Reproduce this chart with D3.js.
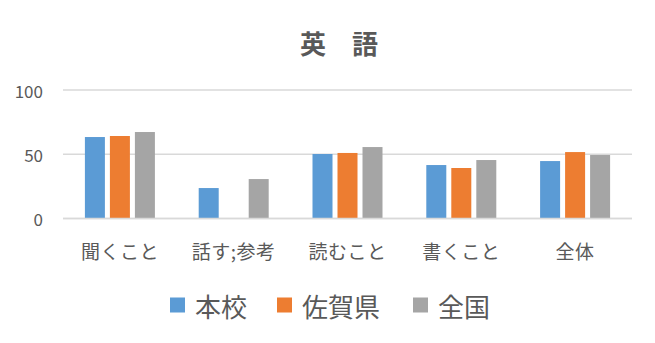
<!DOCTYPE html>
<html>
<head>
<meta charset="utf-8">
<script src="https://cdn.jsdelivr.net/npm/d3@7"></script>
<style>
  body { margin: 0; background: #fff; }
  text { font-family: "Noto Sans CJK JP", sans-serif; fill: #595959; }
</style>
</head>
<body>
<script>
// DATA
const categories = ['聞くこと', '話す;参考', '読むこと', '書くこと', '全体'];
const seriesNames = ['本校', '佐賀県', '全国'];
const honkou = [63.4, 23.7, 50.2, 41.6, 44.7];
const sagaken = [64.2, null, 51.0, 39.3, 51.7];
const zenkoku = [67.3, 30.7, 55.6, 45.5, 49.4];
const yTicks = [0, 50, 100];

// DEFS
const width = 655;
const height = 343;
const colors = ['#5B9BD5', '#ED7D31', '#A5A5A5'];
const gridColor = '#D9D9D9';
const plot = {left: 63, right: 632, top: 90, bottom: 218.5};
const groupWidth = 70;

const seriesValues = [honkou, sagaken, zenkoku];
const rows = categories.map((c, i) => ({
    category: c,
    values: seriesNames.map((s, j) => ({series: s, index: j, value: seriesValues[j][i]}))
}));

const svg = d3.select('body').append('svg').attr('width', width).attr('height', height);

// SCALES
const x0 = d3.scaleBand().domain(categories).range([plot.left, plot.right]).padding(0);
const x1 = d3.scaleBand().domain(seriesNames).range([-groupWidth / 2, groupWidth / 2]).paddingInner(0.2).paddingOuter(0);
const y = d3.scaleLinear().domain([0, 100]).range([plot.bottom, plot.top]);

// TITLE
svg.append('text')
    .attr('x', 339)
    .attr('y', 42)
    .attr('text-anchor', 'middle')
    .attr('dominant-baseline', 'central')
    .style('font-size', '26px')
    .style('font-weight', 'bold')
    .text('英　語');

// GRID
svg.append('g').selectAll('line')
  .data(yTicks)
  .enter().append('line')
    .attr('x1', plot.left)
    .attr('x2', plot.right)
    .attr('y1', d => y(d))
    .attr('y2', d => y(d))
    .attr('stroke', gridColor)
    .attr('stroke-width', 1.5);

svg.append('g').selectAll('text')
  .data(yTicks)
  .enter().append('text')
    .attr('x', 43)
    .attr('y', d => y(d))
    .attr('text-anchor', 'end')
    .attr('dominant-baseline', 'central')
    .style('font-size', '17px')
    .text(d => d);

// BARS
const groups = svg.append('g').selectAll('.cat')
  .data(rows)
  .enter().append('g')
    .attr('class', 'cat')
    .attr('transform', d => `translate(${x0(d.category) + x0.bandwidth() / 2}, 0)`);

groups.selectAll('rect')
  .data(d => d.values.filter(v => v.value !== null))
  .enter().append('rect')
    .attr('x', d => x1(d.series))
    .attr('width', x1.bandwidth())
    .attr('y', d => y(d.value))
    .attr('height', d => y(0) - y(d.value))
    .attr('fill', d => colors[d.index]);

// redraw baseline over bars
svg.append('line')
    .attr('x1', plot.left).attr('x2', plot.right)
    .attr('y1', y(0)).attr('y2', y(0))
    .attr('stroke', gridColor).attr('stroke-width', 1.5);

// CATEGORY LABELS
svg.append('g').selectAll('text')
  .data(categories)
  .enter().append('text')
    .attr('x', d => x0(d) + x0.bandwidth() / 2)
    .attr('y', 250)
    .attr('text-anchor', 'middle')
    .attr('dominant-baseline', 'central')
    .style('font-size', '19px')
    .style('letter-spacing', '0.5px')
    .text(d => d);

// LEGEND
const legendX = [170, 277, 413];
const legend = svg.append('g').selectAll('g')
  .data(seriesNames)
  .enter().append('g')
    .attr('transform', (d, i) => `translate(${legendX[i]}, 305)`);

legend.append('rect')
    .attr('x', 0)
    .attr('y', -7.5)
    .attr('width', 15)
    .attr('height', 15)
    .attr('fill', (d, i) => colors[i]);

legend.append('text')
    .attr('x', 25)
    .attr('y', 0)
    .attr('dominant-baseline', 'central')
    .style('font-size', '26px')
    .text(d => d);
</script>
</body>
</html>
